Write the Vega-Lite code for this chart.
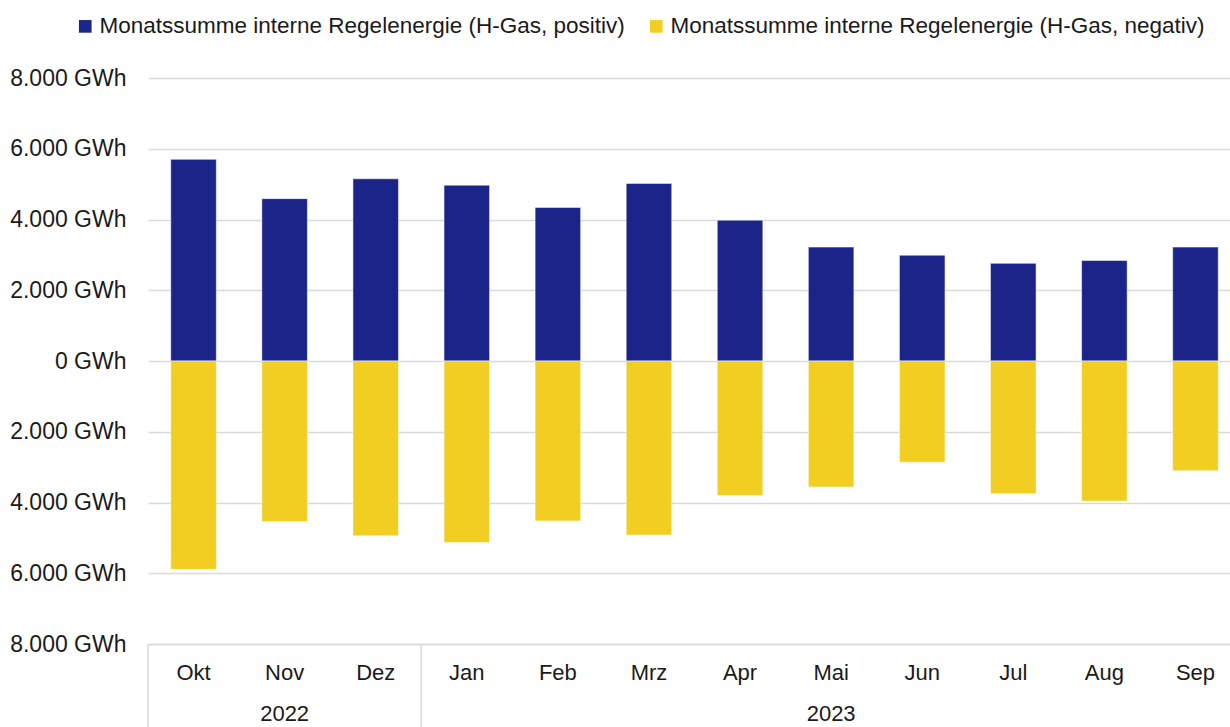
{
  "$schema": "https://vega.github.io/schema/vega-lite/v6.json",
  "autosize": {"type": "none"},
  "width": 1093,
  "height": 566,
  "padding": {"left": 148, "top": 78, "right": 0, "bottom": 83},
  "background": "white",
  "config": {
    "font": "Liberation Sans",
    "view": {"stroke": null},
    "axis": {"labelFont": "Liberation Sans", "labelColor": "#1a1a1a"}
  },
  "datasets": {
    "bars": [
      {"monat": "Okt", "serie": "Monatssumme interne Regelenergie (H-Gas, positiv)", "wert": 5700},
      {"monat": "Nov", "serie": "Monatssumme interne Regelenergie (H-Gas, positiv)", "wert": 4590},
      {"monat": "Dez", "serie": "Monatssumme interne Regelenergie (H-Gas, positiv)", "wert": 5150},
      {"monat": "Jan", "serie": "Monatssumme interne Regelenergie (H-Gas, positiv)", "wert": 4970},
      {"monat": "Feb", "serie": "Monatssumme interne Regelenergie (H-Gas, positiv)", "wert": 4340},
      {"monat": "Mrz", "serie": "Monatssumme interne Regelenergie (H-Gas, positiv)", "wert": 5020},
      {"monat": "Apr", "serie": "Monatssumme interne Regelenergie (H-Gas, positiv)", "wert": 3980},
      {"monat": "Mai", "serie": "Monatssumme interne Regelenergie (H-Gas, positiv)", "wert": 3220},
      {"monat": "Jun", "serie": "Monatssumme interne Regelenergie (H-Gas, positiv)", "wert": 2990},
      {"monat": "Jul", "serie": "Monatssumme interne Regelenergie (H-Gas, positiv)", "wert": 2760},
      {"monat": "Aug", "serie": "Monatssumme interne Regelenergie (H-Gas, positiv)", "wert": 2840},
      {"monat": "Sep", "serie": "Monatssumme interne Regelenergie (H-Gas, positiv)", "wert": 3220},
      {"monat": "Okt", "serie": "Monatssumme interne Regelenergie (H-Gas, negativ)", "wert": -5890},
      {"monat": "Nov", "serie": "Monatssumme interne Regelenergie (H-Gas, negativ)", "wert": -4540},
      {"monat": "Dez", "serie": "Monatssumme interne Regelenergie (H-Gas, negativ)", "wert": -4940},
      {"monat": "Jan", "serie": "Monatssumme interne Regelenergie (H-Gas, negativ)", "wert": -5130},
      {"monat": "Feb", "serie": "Monatssumme interne Regelenergie (H-Gas, negativ)", "wert": -4520},
      {"monat": "Mrz", "serie": "Monatssumme interne Regelenergie (H-Gas, negativ)", "wert": -4920},
      {"monat": "Apr", "serie": "Monatssumme interne Regelenergie (H-Gas, negativ)", "wert": -3800},
      {"monat": "Mai", "serie": "Monatssumme interne Regelenergie (H-Gas, negativ)", "wert": -3560},
      {"monat": "Jun", "serie": "Monatssumme interne Regelenergie (H-Gas, negativ)", "wert": -2860},
      {"monat": "Jul", "serie": "Monatssumme interne Regelenergie (H-Gas, negativ)", "wert": -3750},
      {"monat": "Aug", "serie": "Monatssumme interne Regelenergie (H-Gas, negativ)", "wert": -3960},
      {"monat": "Sep", "serie": "Monatssumme interne Regelenergie (H-Gas, negativ)", "wert": -3100}
    ],
    "jahre": [
      {"monat": "Nov", "jahr": "2022"},
      {"monat": "Mai", "jahr": "2023"}
    ],
    "trenner": [
      {"monat": "Okt"},
      {"monat": "Jan"}
    ]
  },
  "layer": [
    {
      "data": {"name": "bars"},
      "mark": {"type": "bar", "width": {"band": 0.5}, "stroke": "#ffffff", "strokeOpacity": 0.5, "strokeWidth": 1},
      "encoding": {
        "x": {
          "field": "monat", "type": "ordinal",
          "sort": ["Okt","Nov","Dez","Jan","Feb","Mrz","Apr","Mai","Jun","Jul","Aug","Sep"],
          "scale": {"paddingInner": 0, "paddingOuter": 0},
          "axis": {"title": null, "ticks": false, "domainColor": "#d9d9d9", "domainWidth": 1.5, "labelFontSize": 22, "labelPadding": 18, "labelAngle": 0}
        },
        "y": {
          "field": "wert", "type": "quantitative", "stack": null,
          "scale": {"domain": [-8000, 8000], "nice": false},
          "axis": {
            "title": null, "values": [-8000,-6000,-4000,-2000,0,2000,4000,6000,8000],
            "labelExpr": "replace(format(abs(datum.value), ',.0f'), ',', '.') + ' GWh'",
            "domain": false, "ticks": false, "gridColor": "#d9d9d9", "gridWidth": 1.5,
            "labelFontSize": 23, "labelPadding": 22
          }
        },
        "color": {
          "field": "serie", "type": "nominal",
          "scale": {
            "domain": ["Monatssumme interne Regelenergie (H-Gas, positiv)", "Monatssumme interne Regelenergie (H-Gas, negativ)"],
            "range": ["#1a2489", "#f2cd22"]
          },
          "legend": {
            "title": null, "orient": "none", "direction": "horizontal",
            "legendX": -74, "legendY": -63,
            "symbolType": "square", "symbolSize": 160, "symbolStrokeWidth": 0,
            "labelFontSize": 22.5, "labelColor": "#1a1a1a", "labelLimit": 800, "labelOffset": 3,
            "columnPadding": 20
          }
        }
      }
    },
    {
      "data": {"name": "jahre"},
      "mark": {"type": "text", "fontSize": 22, "color": "#1a1a1a", "baseline": "middle", "dy": 70},
      "encoding": {
        "x": {"field": "monat", "type": "ordinal", "sort": ["Okt","Nov","Dez","Jan","Feb","Mrz","Apr","Mai","Jun","Jul","Aug","Sep"]},
        "y": {"datum": -8000},
        "text": {"field": "jahr"}
      }
    },
    {
      "data": {"name": "trenner"},
      "mark": {"type": "rule", "color": "#d9d9d9", "strokeWidth": 1.5, "clip": false},
      "encoding": {
        "x": {"field": "monat", "type": "ordinal", "bandPosition": 0, "sort": ["Okt","Nov","Dez","Jan","Feb","Mrz","Apr","Mai","Jun","Jul","Aug","Sep"]},
        "y": {"datum": -8000},
        "y2": {"datum": -10500}
      }
    }
  ]
}
